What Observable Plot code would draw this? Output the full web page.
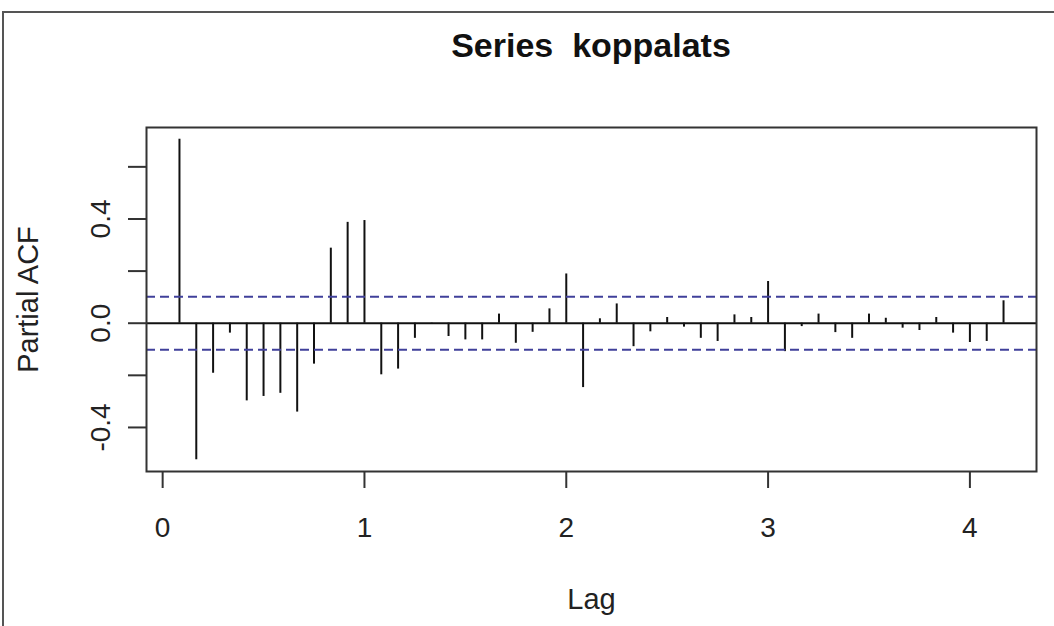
<!DOCTYPE html>
<html><head><meta charset="utf-8">
<script src="https://cdn.jsdelivr.net/npm/d3@7"></script>
<script src="https://cdn.jsdelivr.net/npm/@observablehq/plot@0.6"></script>
<style>
html,body{margin:0;padding:0;background:#fff;}
#wrap{position:relative;width:1054px;height:626px;overflow:hidden;background:#fff;font-family:"Liberation Sans",Arial,sans-serif;}
#border{position:absolute;left:2px;top:11px;right:-5px;bottom:-5px;border-top:2px solid #555;border-left:2px solid #555;pointer-events:none;}
#title{height:80px;box-sizing:border-box;padding-top:28px;margin-left:146px;width:890px;text-align:center;font-size:34px;line-height:34px;font-weight:bold;color:#111;white-space:pre;}
#chart svg{display:block}
</style></head>
<body><div id="wrap"><div id="title"></div><div id="chart"></div><div id="border"></div></div>
<script>
const seriesName = "koppalats";
const frequency = 12;
const lagMonths = [1,2,3,4,5,6,7,8,9,10,11,12,13,14,15,16,17,18,19,20,21,22,23,24,25,26,27,28,29,30,31,32,33,34,35,36,37,38,39,40,41,42,43,44,45,46,47,48,49,50];
const pacf = [0.706,-0.524,-0.192,-0.038,-0.298,-0.281,-0.269,-0.341,-0.157,0.288,
  0.387,0.394,-0.198,-0.176,-0.058,-0.004,-0.051,-0.064,-0.064,0.035,
  -0.077,-0.035,0.055,0.189,-0.247,0.017,0.074,-0.090,-0.033,0.022,
  -0.015,-0.058,-0.070,0.032,0.022,0.160,-0.109,-0.013,0.035,-0.036,
  -0.058,0.035,0.019,-0.019,-0.028,0.022,-0.038,-0.074,-0.070,0.086];
const ci = 0.102;
const xTicks = [0,1,2,3,4];
const xTickTexts = ["0","1","2","3","4"];
const yTicks = [-0.4,-0.2,0,0.2,0.4,0.6];
const yLabelValues = [-0.4,0,0.4];
const yLabelTexts = ["-0.4","0.0","0.4"];

document.getElementById("title").textContent = "Series  " + seriesName;

const data = lagMonths.map((k,i)=>({lag:k/frequency, value:pacf[i]}));
const font = '"Liberation Sans", Arial, sans-serif';
const chart = Plot.plot({
  width:1054, height:546,
  marginLeft:146, marginRight:18, marginTop:47, marginBottom:155,
  style:{fontFamily:font, background:"white", color:"#222", overflow:"visible"},
  x:{domain:[-0.08,4.33]},
  y:{domain:[-0.569,0.751]},
  marks:[
    Plot.ruleY([0],{stroke:"#111",strokeWidth:2}),
    Plot.ruleX(data,{x:"lag",y1:0,y2:"value",stroke:"#111",strokeWidth:2}),
    Plot.ruleY([ci,-ci],{stroke:"#40409a",strokeWidth:2,strokeDasharray:"9,5"}),
    Plot.frame({stroke:"#333",strokeWidth:2}),
    Plot.axisX({ticks:xTicks,tickFormat:(d,i)=>xTickTexts[xTicks.indexOf(d)],tickSize:17,tickPadding:29,fontSize:28,stroke:"#333",strokeWidth:2,label:null}),
    Plot.axisY({ticks:yTicks,tickSize:18,tickFormat:()=>"",stroke:"#333",strokeWidth:2,label:null}),
    Plot.text(yLabelValues,{y:d=>d,text:(d,i)=>yLabelTexts[i],frameAnchor:"left",textAnchor:"middle",dx:-37,rotate:-90,lineAnchor:"bottom",fontSize:28,fill:"#222"}),
    Plot.text(["Lag"],{frameAnchor:"bottom",textAnchor:"middle",dy:137,lineAnchor:"bottom",fontSize:29,fill:"#222"}),
    Plot.text(["Partial ACF"],{frameAnchor:"left",textAnchor:"middle",dx:-109,rotate:-90,lineAnchor:"bottom",fontSize:29,fill:"#222"})
  ]
});
document.getElementById("chart").appendChild(chart);
</script>
</body></html>
